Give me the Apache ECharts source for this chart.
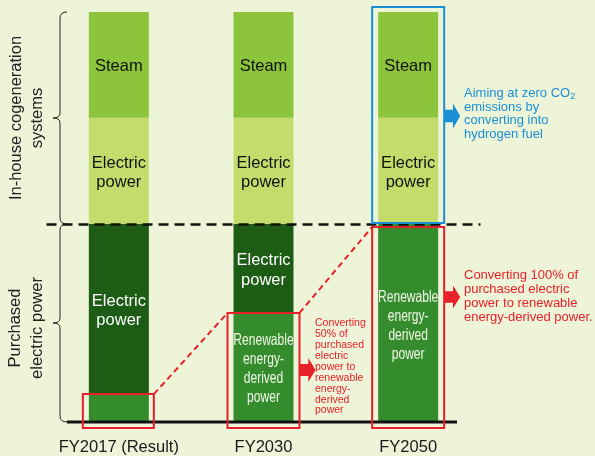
<!DOCTYPE html>
<html>
<head>
<meta charset="utf-8">
<script src="https://cdn.jsdelivr.net/npm/echarts@6/dist/echarts.min.js"></script>
<style>
  html, body { margin: 0; padding: 0; background: #eef4d8; }
  #chart { width: 595px; height: 456px; }
</style>
</head>
<body>
<div id="chart"></div>
<script>
// categories and stacked shares (% of total energy height)
const years = ["FY2017 (Result)", "FY2030", "FY2050"];
const renewable = [6.8, 26.6, 48.3];
const purchased = [41.5, 21.7, 0];
const cogenElectric = [25.9, 25.9, 25.9];
const steam = [25.8, 25.8, 25.8];

const FONT = "Liberation Sans, Arial, sans-serif";
const chart = echarts.init(document.getElementById("chart"));

const label = (color, text) => ({
  show: true,
  position: "inside",
  offset: [0, 2],
  color: color,
  fontFamily: FONT,
  fontSize: 16.5,
  lineHeight: 19.5,
  overflow: "none",
  formatter: text
});

const option = {
  backgroundColor: "#eef4d8",
  animation: false,
  grid: { left: 46.5, right: 114.5, top: 12, bottom: 34 },
  xAxis: {
    type: "category",
    data: years,
    axisLine: { show: false },
    axisTick: { show: false },
    axisLabel: { color: "#1a1a1a", fontFamily: FONT, fontSize: 16.5, margin: 17, interval: 0 }
  },
  yAxis: { type: "value", min: 0, max: 100, show: false, splitLine: { show: false } },
  series: [
    {
      name: "Renewable", type: "bar", stack: "all", barWidth: 60,
      itemStyle: { color: "#348c2c" },
      data: renewable
    },
    {
      name: "Purchased", type: "bar", stack: "all",
      itemStyle: { color: "#1c5c14" },
      data: purchased.map((v) => ({ value: v, label: v > 0 ? label("#ffffff", "Electric\npower") : { show: false } }))
    },
    {
      name: "Cogen electric", type: "bar", stack: "all",
      itemStyle: { color: "#c4dc6c" },
      label: label("#111111", "Electric\npower"),
      data: cogenElectric
    },
    {
      name: "Steam", type: "bar", stack: "all",
      itemStyle: { color: "#8cc43c" },
      label: label("#111111", "Steam"),
      data: steam,
      markLine: {
        silent: true, symbol: "none",
        lineStyle: { color: "#111", width: 2.5, type: [10, 6] },
        label: { show: false },
        data: [{ yAxis: renewable[0] + purchased[0] }]
      }
    }
  ]
};
chart.setOption(option);

// annotations placed from the chart's own scales
const px = (cat, val) => chart.convertToPixel({ xAxisIndex: 0, yAxisIndex: 0 }, [cat, val]);
const baseY = px(years[0], 0)[1];
const splitY = px(years[0], renewable[0] + purchased[0])[1];
const topY = px(years[0], 100)[1];
const cx = years.map((y) => px(y, 0)[0]);
const renTop = renewable.map((v, i) => px(years[i], v)[1]);

const RED = "#e8202a";
const BLUE = "#1a8fd6";

const rect = (x1, y1, x2, y2, color) => ({
  type: "rect", shape: { x: x1, y: y1, width: x2 - x1, height: y2 - y1 },
  style: { fill: "none", stroke: color, lineWidth: 2 }, z: 10
});
const arrow = (x, y, len, h, color) => ({
  type: "polygon", z: 10,
  shape: { points: [[x, y - h / 4], [x + len * 0.55, y - h / 4], [x + len * 0.55, y - h / 2],
    [x + len, y], [x + len * 0.55, y + h / 2], [x + len * 0.55, y + h / 4], [x, y + h / 4]] },
  style: { fill: color }
});
const braceStyle = { stroke: "#222", lineWidth: 1, fill: "none" };
const curve = (x1, y1, cpx, cpy, x2, y2) => ({
  type: "bezierCurve", z: 10, shape: { x1, y1, cpx1: cpx, cpy1: cpy, x2, y2 }, style: braceStyle
});
const seg = (x1, y1, x2, y2) => ({ type: "line", z: 10, shape: { x1, y1, x2, y2 }, style: braceStyle });
const brace = (x, y1, y2) => {
  const m = (y1 + y2) / 2;
  return [
    curve(x + 7, y1, x, y1, x, y1 + 6),
    seg(x, y1 + 6, x, m - 5),
    curve(x, m - 5, x, m, x - 7, m),
    curve(x - 7, m, x, m, x, m + 5),
    seg(x, m + 5, x, y2 - 6),
    curve(x, y2 - 6, x, y2, x + 7, y2)
  ];
};
const txt = (x, y, text, opts, rot) => ({
  type: "text", x: x, y: y, z: 10, rotation: rot || 0,
  style: Object.assign({ text: text, fontFamily: FONT }, opts)
});

// condensed white label for the renewable segments
const renLabel = (i, dy) => ({
  type: "text", z: 11, x: cx[i], y: (renTop[i] + baseY) / 2 + dy, scaleX: 0.73,
  style: {
    text: "Renewable\nenergy-\nderived\npower", fontFamily: FONT, fontSize: 16.5, lineHeight: 19,
    fill: "#f2f7ea", align: "center", verticalAlign: "middle"
  }
});

const hw = 36;
chart.setOption({
  graphic: [
    // baseline
    { type: "line", shape: { x1: 67, y1: baseY, x2: 457, y2: baseY }, style: { stroke: "#111", lineWidth: 3 }, z: 9 },
    // braces and group captions
    ...brace(60, topY, splitY),
    ...brace(60, splitY, baseY),
    txt(27, (topY + splitY) / 2, "In-house cogeneration\nsystems",
      { fontSize: 16.5, lineHeight: 21, fill: "#222", align: "center", verticalAlign: "middle" }, Math.PI / 2),
    txt(26, 328, "Purchased\nelectric power",
      { fontSize: 16.5, lineHeight: 22, fill: "#222", align: "center", verticalAlign: "middle" }, Math.PI / 2),
    renLabel(1, 1),
    renLabel(2, 3),
    // boxes
    rect(cx[0] - hw, renTop[0], cx[0] + hw - 1, baseY + 6, RED),
    rect(cx[1] - hw, renTop[1], cx[1] + hw, baseY + 6, RED),
    rect(cx[2] - hw, renTop[2] + 3, cx[2] + hw, baseY + 6, RED),
    rect(cx[2] - hw, topY - 5, cx[2] + hw, splitY - 1, BLUE),
    // dashed connectors
    { type: "line", z: 10, shape: { x1: cx[0] + hw - 1, y1: renTop[0], x2: cx[1] - hw, y2: renTop[1] },
      style: { stroke: RED, lineWidth: 2, lineDash: [6, 4] } },
    { type: "line", z: 10, shape: { x1: cx[1] + hw, y1: renTop[1], x2: cx[2] - hw, y2: renTop[2] + 3 },
      style: { stroke: RED, lineWidth: 2, lineDash: [6, 4] } },
    // arrows
    arrow(cx[2] + hw, (topY + splitY) / 2 - 2, 16, 25, BLUE),
    arrow(cx[2] + hw, 297, 16, 23, RED),
    arrow(cx[1] + hw, 370, 16, 24, RED),
    // notes
    {
      type: "text", z: 10, x: 464, y: 114,
      style: {
        text: "Aiming at zero CO{s|2}\nemissions by\nconverting into\nhydrogen fuel",
        fontFamily: FONT, fontSize: 13, lineHeight: 13.5, fill: BLUE, verticalAlign: "middle",
        rich: { s: { fontSize: 9, fill: BLUE, fontFamily: FONT, padding: [5, 0, 0, 0] } }
      }
    },
    txt(464, 296, "Converting 100% of\npurchased electric\npower to renewable\nenergy-derived power.",
      { fontSize: 13, lineHeight: 14, fill: RED, verticalAlign: "middle" }),
    txt(315, 367, "Converting\n50% of\npurchased\nelectric\npower to\nrenewable\nenergy-\nderived\npower",
      { fontSize: 10.5, lineHeight: 10.9, fill: RED, verticalAlign: "middle" })
  ]
});
</script>
</body>
</html>
